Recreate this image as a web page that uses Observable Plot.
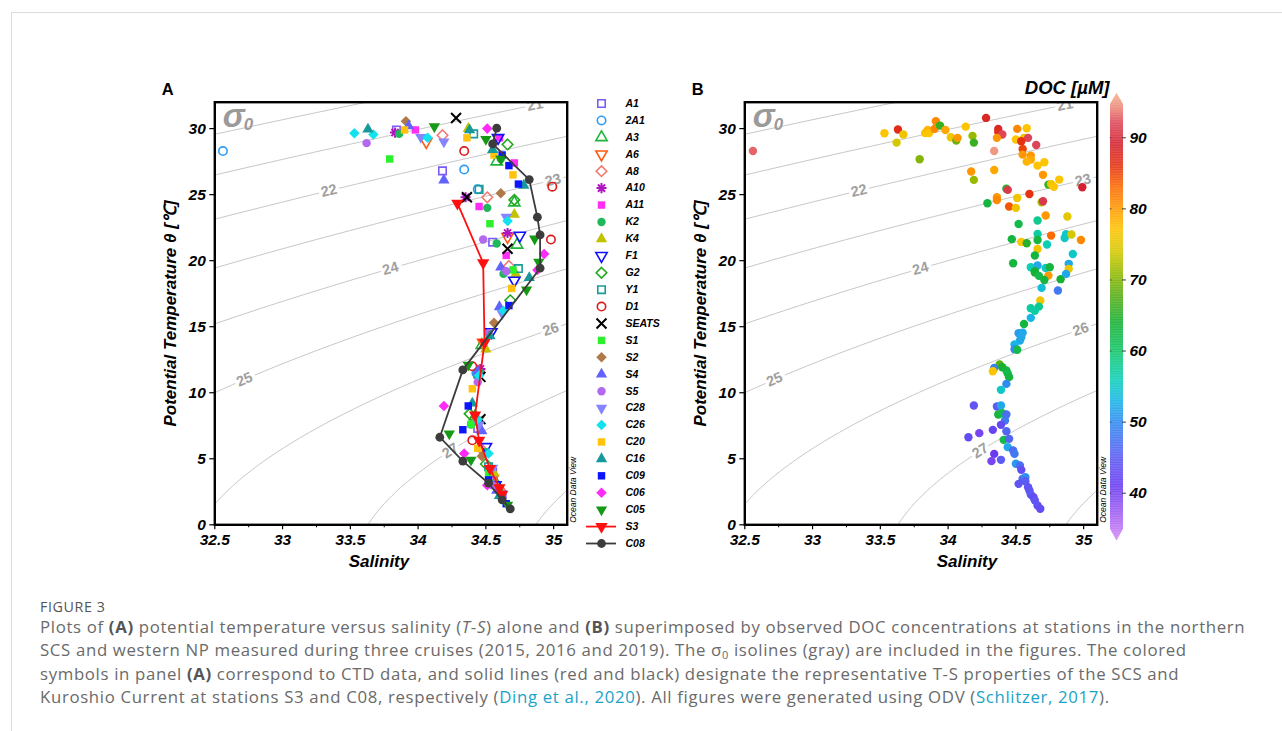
<!DOCTYPE html>
<html><head><meta charset="utf-8">
<script src="https://cdn.jsdelivr.net/npm/d3@7"></script>
<script src="https://cdn.jsdelivr.net/npm/@observablehq/plot@0.6"></script>
<style>
body{margin:0;background:#fff;}
#page{position:relative;width:1282px;height:731px;overflow:hidden;background:#fff;}
#card{position:absolute;left:11px;top:12px;width:1300px;height:740px;border-top:1px solid #dcdcdc;border-left:1px solid #dcdcdc;}
.abs{position:absolute;}
#fig{left:40px;top:597px;font-family:"Open Sans",sans-serif;font-size:14.3px;color:#555;letter-spacing:0.6px;}
#cap{left:40px;top:615px;font-family:"Open Sans",sans-serif;font-size:16.8px;color:#6a6a6a;line-height:23.4px;white-space:nowrap;letter-spacing:0.66px;}
#cap div{height:23.4px;}
#cap b{color:#555;font-weight:700;}
#cap a{color:#1aa3c8;text-decoration:none;}
#cap sub{font-size:11px;line-height:0;vertical-align:-3px;}
</style></head>
<body><div id="page">
<div id="card"></div>
<div id="panelA" class="abs" style="left:150px;top:80px"></div>
<div id="legend" class="abs" style="left:590px;top:90px"></div>
<div id="panelB" class="abs" style="left:680px;top:80px"></div>
<div id="cbar" class="abs" style="left:1000px;top:75px"></div>
<div id="fig" class="abs">FIGURE 3</div>
<div id="cap" class="abs">
<div>Plots of <b>(A)</b> potential temperature versus salinity (<i>T</i>-<i>S</i>) alone and <b>(B)</b> superimposed by observed DOC concentrations at stations in the northern</div>
<div>SCS and western NP measured during three cruises (2015, 2016 and 2019). The σ<sub>0</sub> isolines (gray) are included in the figures. The colored</div>
<div>symbols in panel <b>(A)</b> correspond to CTD data, and solid lines (red and black) designate the representative T-S properties of the SCS and</div>
<div>Kuroshio Current at stations S3 and C08, respectively (<a>Ding et al., 2020</a>). All figures were generated using ODV (<a>Schlitzer, 2017</a>).</div>
</div>
</div>
<script>
// ---------------- DATA ----------------
// Salinity / potential temperature pairs per station (panel A)
const sA1   = [[33.84,29.9],[34.18,26.8],[34.55,21.4],[34.44,7.3],[34.55,4.0],[34.62,2.3]];
const s2A1  = [[32.56,28.3],[34.34,26.9],[34.44,25.4],[34.43,11.5],[34.55,3.6]];
const sA3   = [[34.58,27.5],[34.71,24.4],[34.73,21.2],[34.47,13.6],[34.42,8.2],[34.57,3.2]];
const sA6   = [[34.06,29.0],[34.66,21.8],[34.48,13.8],[34.44,7.9],[34.55,3.5]];
const sA8   = [[34.18,29.5],[34.51,24.8],[34.67,19.6],[34.45,11.7],[34.46,5.8],[34.60,2.7]];
const sA10  = [[33.83,29.7],[34.35,24.8],[34.66,22.1],[34.46,11.8]];
const sA11  = [[33.98,29.9],[34.60,29.3],[34.71,27.4],[34.45,24.1],[34.65,20.4],[34.55,3.8]];
const sK2   = [[33.86,29.6],[34.61,27.7],[34.51,24.0],[34.58,21.3],[34.63,19.0],[34.46,11.5],[34.39,7.6],[34.50,5.5],[34.60,2.8]];
const sK4   = [[34.37,30.0],[34.71,23.5],[34.72,19.0],[34.50,13.3],[34.56,3.9]];
const sF1   = [[34.59,29.3],[34.75,21.9],[34.71,18.5],[34.54,14.6],[34.50,5.9],[34.57,3.0]];
const sG2   = [[34.66,28.8],[34.71,24.6],[34.68,17.0],[34.38,8.4],[34.50,4.6]];
const sY1   = [[34.41,29.6],[34.45,25.4],[34.74,19.4],[34.44,11.4],[34.52,4.4]];
const sD1   = [[34.34,28.3],[34.99,25.6],[34.98,21.6],[34.40,12.0],[34.40,6.4]];
const sSEATS= [[34.28,30.8],[34.36,24.8],[34.66,20.9],[34.46,11.2],[34.46,8.0]];
const sS1   = [[33.79,27.7],[34.53,22.8],[34.70,19.3],[34.39,7.6],[34.52,3.9]];
const sS2   = [[33.91,30.55],[34.61,25.1],[34.56,15.3],[34.47,5.2]];
const sS4   = [[33.93,30.2],[34.19,26.1],[34.61,19.5],[34.60,16.5],[34.44,11.6],[34.47,7.1],[34.58,2.6]];
const sS5   = [[33.62,28.9],[34.48,21.6],[34.65,19.2],[34.52,14.5],[34.44,10.8],[34.55,3.0]];
const sC28  = [[34.02,29.35],[34.19,29.0],[34.65,23.3],[34.62,16.0],[34.45,7.6],[34.55,4.3]];
const sC26  = [[33.53,29.65],[33.67,29.55],[34.07,29.3],[34.66,23.0],[34.63,16.2],[34.45,11.3],[34.44,8.0],[34.52,5.4]];
const sC20  = [[33.90,29.9],[34.36,29.3],[34.56,28.0],[34.70,26.5],[34.69,17.9],[34.40,10.3],[34.44,5.8]];
const sC16  = [[33.63,29.95],[34.38,29.9],[34.55,28.4],[34.78,25.7],[34.82,18.7],[34.53,14.3],[34.40,9.2],[34.60,2.2]];
const sC09  = [[34.62,28.0],[34.67,27.2],[34.74,25.8],[34.67,16.6],[34.37,9.0],[34.33,7.2],[34.52,3.4],[34.65,1.6]];
const sC06  = [[34.51,30.0],[34.93,20.5],[34.88,19.3],[34.19,9.0],[34.34,5.4],[34.51,3.0]];
const sC05  = [[34.12,30.15],[34.50,29.2],[34.61,27.7],[34.86,21.65],[34.89,19.9],[34.80,17.8],[34.37,12.1],[34.23,6.9],[34.39,4.9],[34.66,1.5]];
const sS3   = [[34.29,24.35],[34.48,19.83],[34.49,13.8],[34.42,8.3],[34.45,6.4],[34.53,4.25],[34.60,2.8],[34.62,2.3]];
const sC08  = [[34.58,30.03],[34.55,28.84],[34.82,26.14],[34.88,23.29],[34.90,21.95],[34.90,19.43],[34.33,11.73],[34.16,6.63],[34.33,4.82],[34.52,3.15],[34.62,1.89],[34.68,1.21]];

const stationNames = ["A1","2A1","A3","A6","A8","A10","A11","K2","K4","F1","G2","Y1","D1","SEATS","S1","S2","S4","S5","C28","C26","C20","C16","C09","C06","C05"];
const stationPoints = [sA1,s2A1,sA3,sA6,sA8,sA10,sA11,sK2,sK4,sF1,sG2,sY1,sD1,sSEATS,sS1,sS2,sS4,sS5,sC28,sC26,sC20,sC16,sC09,sC06,sC05];
const lineNames = ["S3","C08"];

// Panel B: [salinity, potential temperature, DOC µM]
const docPoints = [
[32.56,28.3,93],[33.53,29.65,77],[33.63,29.93,87],[33.67,29.55,76],[33.62,28.94,74],[33.79,27.68,70],
[33.83,29.67,77],[33.85,29.9,78],[33.86,29.67,77],[33.91,30.56,81],[33.90,29.98,81],[33.94,30.23,66],
[33.98,29.9,79],[34.02,29.35,76],[34.06,29.09,69],[34.07,29.3,80],[34.13,30.15,77],[34.18,29.45,71],
[34.19,28.94,66],[34.17,26.75,80],[34.19,26.12,71],[34.28,30.81,88],[34.37,29.98,88],[34.37,29.75,87],
[34.40,29.55,92],[34.36,29.3,80],[34.34,28.3,95],[34.34,26.87,79],[34.43,25.45,65],[34.44,25.36,91],
[34.36,24.8,80],[34.36,24.6,81],[34.29,24.35,63],[34.45,24.1,84],[34.50,24.0,76],[34.51,24.75,76],
[34.60,25.05,86],[34.51,29.98,81],[34.58,30.03,77],[34.50,29.17,77],[34.56,29.3,76],[34.59,29.3,92],
[34.54,29.04,86],[34.55,28.46,85],[34.55,28.03,80],[34.61,27.95,80],[34.61,27.65,79],[34.65,28.76,92],
[34.58,27.5,78],[34.66,27.2,77],[34.71,27.45,77],[34.70,26.5,80],[34.82,26.14,77],[34.74,25.76,66],
[34.76,25.8,76],[34.78,25.6,77],[34.99,25.56,89],[34.69,24.42,72],[34.70,24.5,91],[34.72,23.42,80],
[34.88,23.34,75],[34.52,22.78,62],[34.66,23.04,58],[34.66,22.03,57],[34.66,21.57,63],[34.76,21.9,83],
[34.73,21.22,56],[34.86,21.72,55],[34.87,22.0,55],[34.91,21.98,74],[34.98,21.57,81],[34.47,21.63,63],
[34.54,21.42,77],[34.58,21.32,65],[34.66,20.89,76],[34.64,20.39,63],[34.92,20.51,55],[34.48,19.81,63],
[34.61,19.5,56],[34.66,19.63,52],[34.72,19.45,55],[34.75,19.5,63],[34.89,19.76,52],[34.89,19.38,76],
[34.64,19.2,63],[34.74,18.87,80],[34.83,18.6,64],[34.64,19.1,64],[34.67,18.85,62],[34.71,18.54,63],
[34.87,19.0,52],[34.69,17.94,54],[34.81,17.74,48],[34.68,16.98,76],[34.67,16.52,58],[34.61,16.4,57],
[34.64,16.2,57],[34.61,15.67,53],[34.56,15.21,63],[34.52,14.51,51],[34.55,14.55,52],[34.54,14.2,52],
[34.53,13.95,52],[34.49,13.65,53],[34.49,13.3,50],[34.51,13.25,62],[34.38,12.14,68],[34.40,11.93,64],
[34.34,11.88,49],[34.33,11.63,77],[34.43,11.68,63],[34.44,11.45,62],[34.45,11.18,63],[34.43,10.67,50],
[34.39,10.22,55],[34.19,9.03,44],[34.36,8.96,45],[34.39,9.03,52],[34.37,8.35,63],[34.40,8.45,62],
[34.43,8.35,47],[34.42,7.9,48],[34.33,7.19,42],[34.39,7.57,43],[34.43,7.09,46],[34.15,6.63,43],
[34.23,6.94,40],[34.41,6.43,62],[34.45,6.51,46],[34.44,5.88,52],[34.48,5.63,47],[34.49,5.37,48],
[34.34,5.37,41],[34.32,4.82,40],[34.39,4.92,45],[34.50,4.62,51],[34.53,4.49,47],[34.54,4.16,43],
[34.55,3.48,46],[34.57,3.6,50],[34.52,3.1,44],[34.57,3.3,45],[34.59,2.85,44],[34.60,2.6,44],
[34.61,2.3,45],[34.63,2.09,43],[34.64,1.85,44],[34.66,1.46,44],[34.68,1.21,43]
];

const xTicks = [32.5, 33, 33.5, 34, 34.5, 35];
const xMinorTicks = [32.75, 33.25, 33.75, 34.25, 34.75];
const yTicks = [0, 5, 10, 15, 20, 25, 30];
const sigmaLevels = [20, 21, 22, 23, 24, 25, 26, 27, 28];
const sigmaLabelValues = [21, 22, 23, 24, 25, 26, 27];
const sigmaLabelTheta  = [31.8, 25.3, 26.1, 19.4, 11.0, 14.8, 5.6];
const docTicks = [40, 50, 60, 70, 80, 90];
const docStops  = [33, 37, 41, 45, 50, 53, 56, 60, 64, 68, 71, 74, 77, 80, 83, 86, 89, 92, 94, 96.5];
const docColors = ["#d98cf7","#a060f2","#6a3cf0","#5c5cf2","#2f8cf0","#18b6e6","#0ccfb6","#12c466","#16b032","#5cae12","#97ba00","#d6c800","#fdc400","#ff9800","#fb6a00","#e43212","#d32330","#dc4658","#ec8478","#f6b892"];

// ---------------- helpers ----------------
function sigma0(S, T) {
  const rw = 999.842594 + 6.793952e-2*T - 9.095290e-3*T*T + 1.001685e-4*T**3 - 1.120083e-6*T**4 + 6.536332e-9*T**5;
  const A = 8.24493e-1 - 4.0899e-3*T + 7.6438e-5*T*T - 8.2467e-7*T**3 + 5.3875e-9*T**4;
  const B = -5.72466e-3 + 1.0227e-4*T - 1.6546e-6*T*T;
  const C = 4.8314e-4;
  return rw + A*S + B*Math.pow(S,1.5) + C*S*S - 1000;
}
function solveS(sig, T) {
  let lo = 20, hi = 42;
  for (let i = 0; i < 60; i++) { const m = (lo+hi)/2; if (sigma0(m,T) < sig) lo = m; else hi = m; }
  return (lo+hi)/2;
}
const W = 450, H = 510, ML = 64.3, MR = 33.3, MT = 21.7, MB = 65.7;
const xDom = [32.5, 35.1], yDom = [0, 32];
const kx = (W-ML-MR)/(xDom[1]-xDom[0]), ky = (H-MT-MB)/(yDom[1]-yDom[0]);

const isoData = sigmaLevels.flatMap(sig => d3.range(0, 33.01, 0.2).map(t => ({sig, t, s: solveS(sig, t)})));
const isoLabels = sigmaLabelValues.map((sig, i) => {
  const t = sigmaLabelTheta[i];
  const s1 = solveS(sig, t-0.3), s2 = solveS(sig, t+0.3);
  const ang = Math.atan2(-(0.6)*ky, (s2-s1)*kx) * 180/Math.PI;
  return {sig, t, s: solveS(sig, t), ang};
});

// symbols
const triDown = {draw(ctx, size){ const y = -Math.sqrt(size/(Math.sqrt(3)*3)); ctx.moveTo(0,-y*2); ctx.lineTo(-Math.sqrt(3)*y, y); ctx.lineTo(Math.sqrt(3)*y, y); ctx.closePath(); }};
const star8 = {draw(ctx, size){ const r = Math.sqrt(size)*0.62; for (let k=0;k<4;k++){ const a=k*Math.PI/4; ctx.moveTo(r*Math.cos(a), r*Math.sin(a)); ctx.lineTo(-r*Math.cos(a), -r*Math.sin(a)); } }};
const diamond = {draw(ctx, size){ const r = Math.sqrt(size/2)*1.0; ctx.moveTo(0,-r); ctx.lineTo(r,0); ctx.lineTo(0,r); ctx.lineTo(-r,0); ctx.closePath(); }};
const symMap = {square: "square", circle: "circle", triangle: "triangle", down: triDown, diamond: diamond, star: star8, times: "times"};

// styles per station (same order as stationNames)
const stationSymbols = ["square","circle","triangle","down","diamond","star","square","circle","triangle","down","diamond","square","circle","times","square","diamond","triangle","circle","down","diamond","square","triangle","square","diamond","down"];
const stationHollow  = [true,true,true,true,true,false,false,false,false,true,true,true,true,false,false,false,false,false,false,false,false,false,false,false,false];
const stationColors  = ["#7b5cf5","#2e9bf5","#1fb53a","#ff5a10","#ef7a72","#b016c0","#ff2ef5","#1fb85a","#c2c200","#1010ff","#22a81a","#1a9a9a","#dd1a1a","#000000","#2cf02c","#b07a48","#6262ff","#b368f0","#8585ff","#12e2ee","#ffc20e","#16999a","#0a14ff","#ff2af5","#169a16"];
const lineColors = ["#ff1010","#3c3c3c"];

function stationDot(points, i, xf, yf, extra) {
  const hollow = stationHollow[i];
  const sym = symMap[stationSymbols[i]];
  const thin = stationSymbols[i] === "times" || stationSymbols[i] === "star";
  const strokeOnly = hollow || thin;
  return Plot.dot(points, {
    x: xf, y: yf, symbol: sym,
    r: thin ? 4.6 : 4.2,
    fill: strokeOnly ? "none" : stationColors[i],
    stroke: strokeOnly ? stationColors[i] : "none",
    strokeWidth: thin ? 2 : 1.6,
    ...extra
  });
}

const textStyle = {fontFamily: "Liberation Sans, Arial, sans-serif", fontWeight: "bold", fontStyle: "italic"};

function commonMarks() {
  return [
    Plot.line(isoData, {x: "s", y: "t", z: "sig", stroke: "#b9b9b9", strokeWidth: 0.8, clip: true}),
    Plot.text(isoLabels, {x: "s", y: "t", text: d => String(d.sig), rotate: d => d.ang, fill: "#a0a0a0", stroke: "white", strokeWidth: 7, fontSize: 14.5, fontWeight: "bold", fontStyle: "normal", clip: true})
  ];
}
function frameAndAxes(labelDx) {
  return [
    Plot.frame({stroke: "black", strokeWidth: 2.4}),
    Plot.axisX({ticks: xTicks, tickFormat: d => String(d), tickSize: 5, tickPadding: 4, fontSize: 15.5, label: null, strokeWidth: 1.2}),
    Plot.axisX({ticks: xMinorTicks, text: null, tickSize: 3, label: null}),
    Plot.axisY({ticks: yTicks, tickFormat: d => String(d), tickSize: 5, tickPadding: 4, fontSize: 15.5, label: null, strokeWidth: 1.2}),
    Plot.text(["Salinity"], {frameAnchor: "bottom", dx: labelDx, dy: 42, fontSize: 17, fontWeight: "bold", fontStyle: "italic"}),
    Plot.text(["Potential Temperature θ [℃]"], {frameAnchor: "left", textAnchor: "middle", rotate: -90, dx: -44, fontSize: 17, fontWeight: "bold", fontStyle: "italic"}),
    Plot.text(["σ"], {frameAnchor: "top-left", textAnchor: "start", lineAnchor: "top", dx: 8, dy: 1, fontSize: 33, fill: "#9a9a9a", fontWeight: "bold", fontStyle: "italic"}),
    Plot.text(["0"], {frameAnchor: "top-left", textAnchor: "start", lineAnchor: "top", dx: 29, dy: 16, fontSize: 17, fill: "#9a9a9a", fontWeight: "bold", fontStyle: "italic"}),
    Plot.text(["Ocean Data View"], {frameAnchor: "bottom-right", rotate: -90, textAnchor: "start", dx: 8.5, dy: -2, fontSize: 8.5, fontWeight: "normal", fontStyle: "italic"})
  ];
}
function basePlot(marks, letter) {
  return Plot.plot({
    width: W, height: H, marginLeft: ML, marginRight: MR, marginTop: MT, marginBottom: MB,
    x: {domain: xDom, label: null}, y: {domain: yDom, label: null},
    color: {type: "linear", domain: docStops, range: docColors},
    style: {...textStyle, background: "transparent", overflow: "visible", color: "black"},
    marks: [
      ...marks,
      Plot.text([letter], {frameAnchor: "top-left", textAnchor: "start", lineAnchor: "middle", dx: -53, dy: -12, fontSize: 16.5, fontWeight: "bold", fontStyle: "normal"})
    ]
  });
}

// ---------------- Panel A ----------------
const marksA = [
  ...commonMarks(),
  ...stationPoints.map((pts, i) => stationDot(pts, i, d => d[0], d => d[1], {})),
  Plot.line(sS3, {x: d => d[0], y: d => d[1], stroke: lineColors[0], strokeWidth: 1.8}),
  Plot.dot(sS3, {x: d => d[0], y: d => d[1], symbol: triDown, r: 4.6, fill: lineColors[0]}),
  Plot.line(sC08, {x: d => d[0], y: d => d[1], stroke: lineColors[1], strokeWidth: 1.8}),
  Plot.dot(sC08, {x: d => d[0], y: d => d[1], r: 4.4, fill: lineColors[1]}),
  ...frameAndAxes(-12)
];
document.getElementById("panelA").append(basePlot(marksA, "A"));

// ---------------- Panel B ----------------
const marksB = [
  ...commonMarks(),
  Plot.dot(docPoints, {x: d => d[0], y: d => d[1], fill: d => d[2], r: 4.2}),
  ...frameAndAxes(46)
];
document.getElementById("panelB").append(basePlot(marksB, "B"));

// ---------------- Legend (panel A) ----------------
const legendNames = [...stationNames, ...lineNames];
const nL = legendNames.length;
const legend = Plot.plot({
  width: 90, height: 470, marginTop: 0, marginBottom: 0, marginLeft: 0, marginRight: 0,
  x: {domain: [0, 90], range: [0, 90], axis: null},
  y: {type: "linear", domain: [0, nL - 1], range: [13, 453], axis: null},
  style: {...textStyle, background: "transparent", overflow: "visible"},
  marks: [
    ...stationNames.map((n, i) => stationDot([i], i, () => 11, d => d, {})),
    Plot.ruleY([nL - 2], {y: d => d, x1: -4, x2: 26, stroke: lineColors[0], strokeWidth: 1.8}),
    Plot.dot([nL - 2], {x: () => 11, y: d => d, symbol: triDown, r: 4.6, fill: lineColors[0]}),
    Plot.ruleY([nL - 1], {y: d => d, x1: -4, x2: 26, stroke: lineColors[1], strokeWidth: 1.8}),
    Plot.dot([nL - 1], {x: () => 11, y: d => d, r: 4.4, fill: lineColors[1]}),
    Plot.text(legendNames, {x: () => 35, y: (d, i) => i, text: d => d, textAnchor: "start", fontSize: 10.5, fontWeight: "bold", fontStyle: "italic"})
  ]
});
document.getElementById("legend").append(legend);

// ---------------- Colour bar ----------------
const cbVals = d3.range(33.2, 96.2, 0.1);
const taper = v => v > 94.6 ? (v - 94.6) / (96.2 - 94.6) * 0.5 : (v < 34.9 ? (34.9 - v) / (34.9 - 33.2) * 0.5 : 0);
const cbar = Plot.plot({
  width: 180, height: 490, margin: 0,
  x: {domain: [0, 1], range: [110, 123], axis: null},
  y: {domain: [40, 90], range: [417.7, 62.3], axis: null},
  color: {type: "linear", domain: docStops, range: docColors},
  style: {...textStyle, background: "transparent", overflow: "visible"},
  marks: [
    Plot.rect(cbVals, {x1: v => taper(v), x2: v => 1 - taper(v), y1: v => v, y2: v => v + 0.12, fill: v => v}),
    Plot.ruleY(docTicks, {y: d => d, x1: 0.92, x2: 1.22, stroke: "#333", strokeWidth: 1}),
    Plot.ruleY(docTicks, {y: d => d, x1: -0.02, x2: 0.12, stroke: "#555", strokeWidth: 1}),
    Plot.text(docTicks, {x: () => 1, y: d => d, text: d => String(d), dx: 6, textAnchor: "start", fontSize: 15.5}),
    Plot.text(["DOC [µM]"], {x: () => 0, y: () => 90, dy: -50, dx: -1, textAnchor: "end", fontSize: 18.5})
  ]
});
document.getElementById("cbar").append(cbar);
</script>
</body></html>
